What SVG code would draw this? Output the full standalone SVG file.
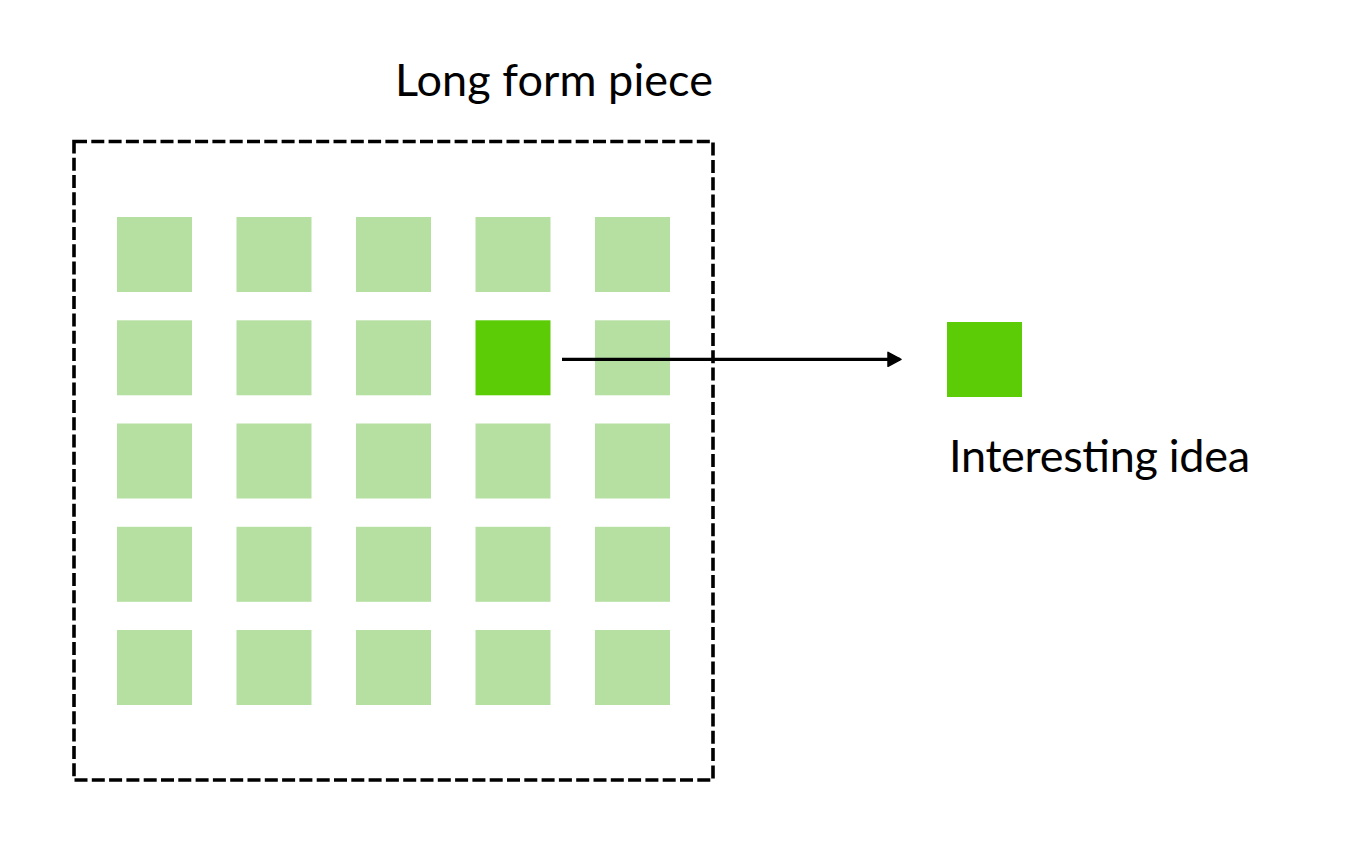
<svg xmlns="http://www.w3.org/2000/svg" width="1354" height="854" viewBox="0 0 1354 854">
<defs>
<style>
.lbl{font-family:Lato,"Noto Sans","Liberation Sans",sans-serif;font-size:45px;fill:#000}
.sq{fill:#b5e0a2}
.hi{fill:#5bcc06}
.frame{fill:none;stroke:#000;stroke-width:3.6;stroke-dasharray:13 4.3}
.conn{fill:none;stroke:#000;stroke-width:3.2}
</style>
<marker id="arr" markerUnits="userSpaceOnUse" markerWidth="16" markerHeight="18" refX="13" refY="8" orient="auto">
<path d="M1,1 L14,8 L1,15 Z" fill="#000" stroke="#000" stroke-width="1.5" stroke-linejoin="round"/>
</marker>
</defs>
<rect width="1354" height="854" fill="#fff"/>
<g id="long-form-piece">
<rect class="frame" x="74" y="141.5" width="639" height="638.5"/>
<text class="lbl" x="395" y="96" textLength="318" lengthAdjust="spacing">Long form piece</text>
</g>
<g id="grid">
<rect class="sq" x="117" y="217" width="75" height="75"/>
<rect class="sq" x="236.5" y="217" width="75" height="75"/>
<rect class="sq" x="356" y="217" width="75" height="75"/>
<rect class="sq" x="475.5" y="217" width="75" height="75"/>
<rect class="sq" x="595" y="217" width="75" height="75"/>
<rect class="sq" x="117" y="320.3" width="75" height="75"/>
<rect class="sq" x="236.5" y="320.3" width="75" height="75"/>
<rect class="sq" x="356" y="320.3" width="75" height="75"/>
<rect class="sq" x="595" y="320.3" width="75" height="75"/>
<rect class="sq" x="117" y="423.5" width="75" height="75"/>
<rect class="sq" x="236.5" y="423.5" width="75" height="75"/>
<rect class="sq" x="356" y="423.5" width="75" height="75"/>
<rect class="sq" x="475.5" y="423.5" width="75" height="75"/>
<rect class="sq" x="595" y="423.5" width="75" height="75"/>
<rect class="sq" x="117" y="526.8" width="75" height="75"/>
<rect class="sq" x="236.5" y="526.8" width="75" height="75"/>
<rect class="sq" x="356" y="526.8" width="75" height="75"/>
<rect class="sq" x="475.5" y="526.8" width="75" height="75"/>
<rect class="sq" x="595" y="526.8" width="75" height="75"/>
<rect class="sq" x="117" y="630" width="75" height="75"/>
<rect class="sq" x="236.5" y="630" width="75" height="75"/>
<rect class="sq" x="356" y="630" width="75" height="75"/>
<rect class="sq" x="475.5" y="630" width="75" height="75"/>
<rect class="sq" x="595" y="630" width="75" height="75"/>
</g>
<g id="selected-idea">
<rect class="hi" x="475.5" y="320.3" width="75" height="75"/>
</g>
<g id="interesting-idea">
<rect class="hi" x="947" y="322" width="75" height="75"/>
<text class="lbl" x="949" y="472" textLength="301" lengthAdjust="spacing">Interesting idea</text>
</g>
<g id="connectors">
<line class="conn" x1="562" y1="359.3" x2="900" y2="359.3" marker-end="url(#arr)"/>
</g>
</svg>
